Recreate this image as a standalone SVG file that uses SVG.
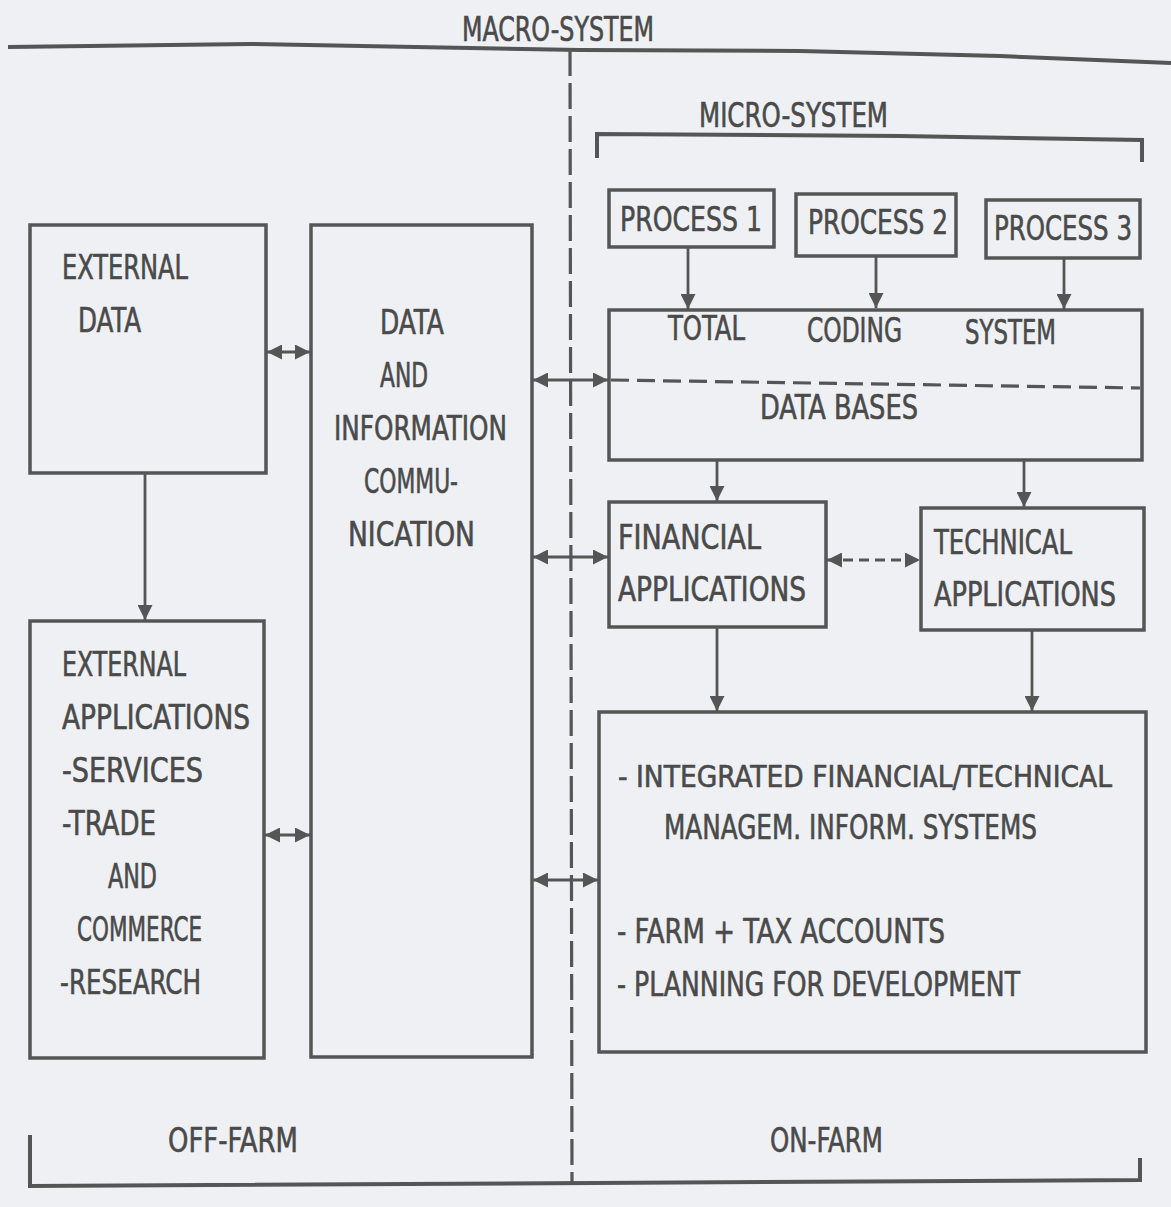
<svg xmlns="http://www.w3.org/2000/svg" width="1171" height="1207" viewBox="0 0 1171 1207">
  <style>
    .bg { fill: #eef0f3; }
    .box { fill: none; stroke: #555; stroke-width: 3.5; }
    .frame { fill: none; stroke: #555; stroke-width: 4; stroke-linejoin: miter; }
    .conn { fill: none; stroke: #555; stroke-width: 2.8; }
    .dash { fill: none; stroke: #555; stroke-width: 3.2; stroke-dasharray: 18 8; }
    .divider { fill: none; stroke: #555; stroke-width: 3.2; stroke-dasharray: 26 7; }
    .t { font-family: "DejaVu Sans Condensed", "DejaVu Sans", sans-serif; font-size: 34px; fill: #4a4a4a; stroke: #4a4a4a; stroke-width: 0.6; }
    .long { font-size: 31px; }
  </style>
  <defs>
    <marker id="head" viewBox="0 0 10 10" refX="10" refY="5" markerWidth="15" markerHeight="15" markerUnits="userSpaceOnUse" orient="auto-start-reverse">
      <path d="M0,0 L10,5 L0,10 z" fill="#555"/>
    </marker>
  </defs>

  <rect class="bg" x="0" y="0" width="1171" height="1207"/>

  <!-- system boundaries -->
  <g id="boundaries">
    <polyline class="frame" points="8,47 250,44 580,50 800,51 1000,56 1171,63"/>
    <text class="t" x="462" y="41" textLength="192" lengthAdjust="spacingAndGlyphs">MACRO-SYSTEM</text>
    <line class="divider" x1="570" y1="50" x2="572" y2="1182"/>
    <polyline class="frame" points="597,158 597,134 900,136 1142,140 1142,162"/>
    <text class="t" x="699" y="127" textLength="189" lengthAdjust="spacingAndGlyphs">MICRO-SYSTEM</text>
    <polyline class="frame" points="30,1135 30,1186 1140,1180 1140,1158"/>
    <text class="t" x="168" y="1152" textLength="130" lengthAdjust="spacingAndGlyphs">OFF-FARM</text>
    <text class="t" x="770" y="1152" textLength="113" lengthAdjust="spacingAndGlyphs">ON-FARM</text>
  </g>

  <!-- off-farm nodes -->
  <g id="external-data">
    <rect class="box" x="30" y="225" width="236" height="248"/>
    <text class="t" x="62" y="279" textLength="126" lengthAdjust="spacingAndGlyphs">EXTERNAL</text>
    <text class="t" x="78" y="332" textLength="63" lengthAdjust="spacingAndGlyphs">DATA</text>
  </g>
  <g id="external-applications">
    <rect class="box" x="30" y="621" width="234" height="437"/>
    <text class="t" x="62" y="676" textLength="124" lengthAdjust="spacingAndGlyphs">EXTERNAL</text>
    <text class="t" x="62" y="729" textLength="188" lengthAdjust="spacingAndGlyphs">APPLICATIONS</text>
    <text class="t" x="62" y="782" textLength="141" lengthAdjust="spacingAndGlyphs">-SERVICES</text>
    <text class="t" x="62" y="835" textLength="94" lengthAdjust="spacingAndGlyphs">-TRADE</text>
    <text class="t" x="108" y="888" textLength="49" lengthAdjust="spacingAndGlyphs">AND</text>
    <text class="t" x="77" y="941" textLength="125" lengthAdjust="spacingAndGlyphs">COMMERCE</text>
    <text class="t" x="60" y="994" textLength="141" lengthAdjust="spacingAndGlyphs">-RESEARCH</text>
  </g>
  <g id="data-communication">
    <rect class="box" x="311" y="225" width="221" height="832"/>
    <text class="t" x="380" y="334" textLength="64" lengthAdjust="spacingAndGlyphs">DATA</text>
    <text class="t" x="380" y="387" textLength="48" lengthAdjust="spacingAndGlyphs">AND</text>
    <text class="t" x="334" y="440" textLength="173" lengthAdjust="spacingAndGlyphs">INFORMATION</text>
    <text class="t" x="364" y="493" textLength="94" lengthAdjust="spacingAndGlyphs">COMMU-</text>
    <text class="t" x="348" y="546" textLength="127" lengthAdjust="spacingAndGlyphs">NICATION</text>
  </g>

  <!-- on-farm nodes -->
  <g id="process-1">
    <rect class="box" x="609" y="190" width="165" height="57"/>
    <text class="t" x="620" y="231" textLength="142" lengthAdjust="spacingAndGlyphs">PROCESS 1</text>
  </g>
  <g id="process-2">
    <rect class="box" x="796" y="194" width="160" height="62"/>
    <text class="t" x="808" y="234" textLength="140" lengthAdjust="spacingAndGlyphs">PROCESS 2</text>
  </g>
  <g id="process-3">
    <rect class="box" x="986" y="200" width="154" height="58"/>
    <text class="t" x="994" y="240" textLength="138" lengthAdjust="spacingAndGlyphs">PROCESS 3</text>
  </g>
  <g id="data-bases">
    <rect class="box" x="609" y="310" width="533" height="150"/>
    <text class="t" x="668" y="340" textLength="77" lengthAdjust="spacingAndGlyphs">TOTAL</text>
    <text class="t" x="807" y="342" textLength="95" lengthAdjust="spacingAndGlyphs">CODING</text>
    <text class="t" x="965" y="344" textLength="91" lengthAdjust="spacingAndGlyphs">SYSTEM</text>
    <line class="dash" x1="611" y1="380" x2="1140" y2="388"/>
    <text class="t" x="760" y="419" textLength="158" lengthAdjust="spacingAndGlyphs">DATA BASES</text>
  </g>
  <g id="financial-applications">
    <rect class="box" x="609" y="502" width="217" height="125"/>
    <text class="t" x="618" y="549" textLength="143" lengthAdjust="spacingAndGlyphs">FINANCIAL</text>
    <text class="t" x="618" y="601" textLength="188" lengthAdjust="spacingAndGlyphs">APPLICATIONS</text>
  </g>
  <g id="technical-applications">
    <rect class="box" x="921" y="508" width="223" height="122"/>
    <text class="t" x="934" y="554" textLength="138" lengthAdjust="spacingAndGlyphs">TECHNICAL</text>
    <text class="t" x="934" y="606" textLength="182" lengthAdjust="spacingAndGlyphs">APPLICATIONS</text>
  </g>
  <g id="integrated-systems">
    <rect class="box" x="599" y="712" width="547" height="340"/>
    <text class="t long" x="618" y="787" textLength="494" lengthAdjust="spacingAndGlyphs">- INTEGRATED FINANCIAL/TECHNICAL</text>
    <text class="t" x="664" y="839" textLength="373" lengthAdjust="spacingAndGlyphs">MANAGEM. INFORM. SYSTEMS</text>
    <text class="t" x="617" y="943" textLength="328" lengthAdjust="spacingAndGlyphs">- FARM + TAX ACCOUNTS</text>
    <text class="t" x="617" y="996" textLength="403" lengthAdjust="spacingAndGlyphs">- PLANNING FOR DEVELOPMENT</text>
  </g>

  <!-- connectors -->
  <g id="connectors">
    <line class="conn" x1="145" y1="473" x2="145" y2="620" marker-end="url(#head)"/>
    <line class="conn" x1="267" y1="352" x2="310" y2="352" marker-start="url(#head)" marker-end="url(#head)"/>
    <line class="conn" x1="265" y1="835" x2="310" y2="835" marker-start="url(#head)" marker-end="url(#head)"/>
    <line class="conn" x1="533" y1="380" x2="608" y2="380" marker-start="url(#head)" marker-end="url(#head)"/>
    <line class="conn" x1="533" y1="557" x2="608" y2="557" marker-start="url(#head)" marker-end="url(#head)"/>
    <line class="conn" x1="533" y1="880" x2="598" y2="880" marker-start="url(#head)" marker-end="url(#head)"/>
    <line class="conn" x1="688" y1="247" x2="688" y2="309" marker-end="url(#head)"/>
    <line class="conn" x1="876" y1="256" x2="876" y2="308" marker-end="url(#head)"/>
    <line class="conn" x1="1064" y1="258" x2="1064" y2="309" marker-end="url(#head)"/>
    <line class="conn" x1="717" y1="460" x2="717" y2="501" marker-end="url(#head)"/>
    <line class="conn" x1="1024" y1="460" x2="1024" y2="507" marker-end="url(#head)"/>
    <line class="dash" x1="827" y1="560" x2="920" y2="560" style="stroke-width:2.8;stroke-dasharray:10 6" marker-start="url(#head)" marker-end="url(#head)"/>
    <line class="conn" x1="717" y1="627" x2="717" y2="711" marker-end="url(#head)"/>
    <line class="conn" x1="1032" y1="630" x2="1032" y2="711" marker-end="url(#head)"/>
  </g>
</svg>
